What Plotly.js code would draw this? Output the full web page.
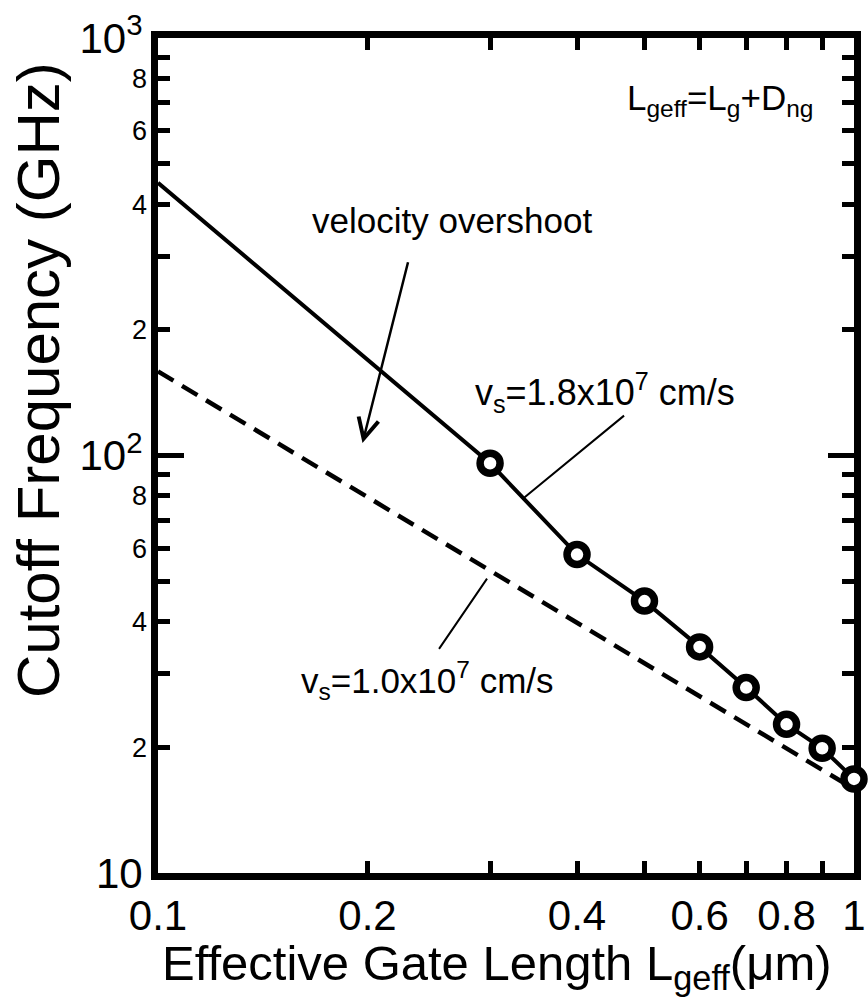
<!DOCTYPE html>
<html><head><meta charset="utf-8">
<script src="https://cdn.plot.ly/plotly-3.0.1.min.js"></script>
<style>html,body{margin:0;padding:0;background:#fff}</style>
</head><body><div id="chart" style="width:868px;height:1001px"></div>
<script>
// ---- data ----
const gateLength = [0.3, 0.4, 0.5, 0.6, 0.7, 0.8, 0.9, 1.0];
const measuredFt = [95.8, 57.9, 44.8, 34.8, 27.8, 22.7, 19.9, 16.8];
const overshootStartX = 0.1;
const overshootStartY = 450;
const saturationX = [0.1, 1.0];
const saturationY = [159, 15.9];

const xTickVals = [0.1, 0.2, 0.4, 0.6, 0.8, 1];
const xTickText = ['0.1', '0.2', '0.4', '0.6', '0.8', '1'];
const xMinorVals = [0.3, 0.5, 0.7, 0.9];
const yMajorVals = [10, 100, 1000];
const yMajorText = ['10', '10<sup>2</sup>', '10<sup>3</sup>'];
const yMinorVals = [20, 30, 40, 50, 60, 70, 80, 90, 200, 300, 400, 500, 600, 700, 800, 900];
const ySmallVals = [20, 40, 60, 80, 200, 400, 600, 800];
const ySmallText = ['2', '4', '6', '8', '2', '4', '6', '8'];

const FONT = 'Liberation Sans, Arial, Helvetica, sans-serif';
const L = Math.log10;

const traces = [
  { x: saturationX, y: saturationY, mode: 'lines', type: 'scatter',
    line: { color: '#000', width: 4.5, dash: '18px,10px' }, showlegend: false, hoverinfo: 'skip' },
  { x: [overshootStartX].concat(gateLength), y: [overshootStartY].concat(measuredFt),
    mode: 'lines', type: 'scatter', line: { color: '#000', width: 4 }, showlegend: false, hoverinfo: 'skip' },
  { x: gateLength, y: measuredFt, mode: 'markers', type: 'scatter', cliponaxis: false,
    marker: { symbol: 'circle', size: 20, color: '#fff', line: { color: '#000', width: 7.5 } },
    showlegend: false, hoverinfo: 'skip' },
  { x: [null], y: [null], xaxis: 'x', yaxis: 'y2', mode: 'markers', showlegend: false, hoverinfo: 'skip' }
];

const axisCommon = {
  type: 'log', showline: true, linecolor: '#000', linewidth: 7, mirror: 'allticks',
  ticks: 'inside', tickcolor: '#000', tickwidth: 5, showgrid: false, zeroline: false,
  layer: 'below traces'
};

const layout = {
  width: 868, height: 1001,
  margin: { l: 158, r: 14, t: 38, b: 128, pad: 0 },
  paper_bgcolor: '#fff', plot_bgcolor: '#fff',
  font: { family: FONT, color: '#000' },
  xaxis: Object.assign({}, axisCommon, {
    range: [-1, 0], tickmode: 'array', tickvals: xTickVals, ticktext: xTickText, ticklen: 12,
    tickfont: { size: 42, family: FONT },
    minor: { tickmode: 'array', tickvals: xMinorVals, ticks: 'inside', ticklen: 12, tickwidth: 5, tickcolor: '#000', showgrid: false }
  }),
  yaxis: Object.assign({}, axisCommon, {
    range: [1, 3], tickmode: 'array', tickvals: yMajorVals, ticktext: yMajorText, ticklen: 26,
    tickfont: { size: 42, family: FONT },
    minor: { tickmode: 'array', tickvals: yMinorVals, ticks: 'inside', ticklen: 12, tickwidth: 5, tickcolor: '#000', showgrid: false }
  }),
  yaxis2: {
    type: 'log', overlaying: 'y', side: 'left', anchor: 'x', range: [1, 3],
    tickmode: 'array', tickvals: ySmallVals, ticktext: ySmallText, ticks: '', showline: false,
    ticklabelstandoff: 10,
    showgrid: false, zeroline: false, tickfont: { size: 27, family: FONT }
  },
  annotations: [
    { xref: 'paper', yref: 'paper', x: -0.1724, y: 0.5904, showarrow: false, textangle: -90,
      text: 'Cutoff Frequency (GHz)', font: { size: 60, family: FONT }, xanchor: 'center', yanchor: 'middle' },
    { xref: 'paper', yref: 'paper', x: 0.487, y: -0.0725, showarrow: false,
      text: 'Effective Gate Length L<sub>geff</sub>(\u03bcm)', font: { size: 49, family: FONT }, xanchor: 'center', yanchor: 'top' },
    { xref: 'paper', yref: 'paper', x: 0.8075, y: 0.9257, showarrow: false,
      text: 'L<sub>geff</sub>=L<sub>g</sub>+D<sub>ng</sub>', font: { size: 35, family: FONT }, xanchor: 'center', yanchor: 'middle' },
    { xref: 'paper', yref: 'paper', x: 0.4224, y: 0.781, showarrow: false,
      text: 'velocity overshoot', font: { size: 35, family: FONT }, xanchor: 'center', yanchor: 'middle' },
    { xref: 'paper', yref: 'paper', x: 0.6422, y: 0.576, showarrow: false,
      text: 'v<sub>s</sub>=1.8x10<sup>7</sup> cm/s', font: { size: 36, family: FONT }, xanchor: 'center', yanchor: 'middle' },
    { xref: 'paper', yref: 'paper', x: 0.3879, y: 0.2311, showarrow: false,
      text: 'v<sub>s</sub>=1.0x10<sup>7</sup> cm/s', font: { size: 35, family: FONT }, xanchor: 'center', yanchor: 'middle' },
    // arrow: velocity overshoot
    { xref: 'x', yref: 'y', axref: 'x', ayref: 'y', x: L(0.1967), y: L(107.1), ax: L(0.2303), ay: L(304.3),
      text: ' ', showarrow: true, arrowhead: 5, arrowsize: 1.6, arrowwidth: 2.5, arrowcolor: '#000', standoff: 0, startstandoff: 0 },
    // leader: 1.8e7 label
    { xref: 'x', yref: 'y', axref: 'x', ayref: 'y', x: L(0.334), y: L(78.7), ax: L(0.472), ay: L(126.3),
      text: ' ', showarrow: true, arrowhead: 0, arrowwidth: 2, arrowcolor: '#000', standoff: 0, startstandoff: 0 },
    // leader: 1.0e7 label
    { xref: 'x', yref: 'y', axref: 'x', ayref: 'y', x: L(0.297), y: L(50.7), ax: L(0.2509), ay: L(33.6),
      text: ' ', showarrow: true, arrowhead: 0, arrowwidth: 2, arrowcolor: '#000', standoff: 0, startstandoff: 0 }
  ]
};

Plotly.newPlot('chart', traces, layout, { displayModeBar: false, staticPlot: true });
</script>
</body></html>
